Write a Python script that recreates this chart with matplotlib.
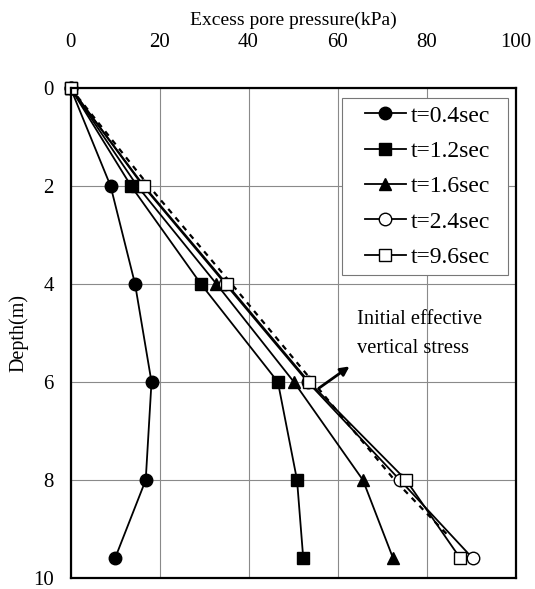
import matplotlib.pyplot as plt
from matplotlib.patches import Rectangle

plt.rcParams['font.family'] = ['Liberation Serif', 'DejaVu Serif']

# depth (m) and excess pore pressure (kPa) for each time
depth = [0, 2, 4, 6, 8, 9.6]
p_04 = [0, 9.0, 14.5, 18.2, 16.9, 10.0]
p_12 = [0, 13.6, 29.3, 46.6, 50.9, 52.3]
p_16 = [0, 15.0, 32.8, 50.2, 65.7, 72.5]
p_24 = [0, 16.3, 34.8, 53.3, 74.0, 90.4]
p_96 = [0, 16.5, 35.1, 53.6, 75.4, 87.6]

# initial effective vertical stress
sv_depth = [0, 2, 4, 6, 8, 9.1]
sv_val = [0, 17.6, 36.2, 54.5, 72.8, 84.5]

fig = plt.figure(figsize=(5.35, 5.89), dpi=100)
ax = fig.add_axes([0.1318, 0.0187, 0.8318, 0.832])

ax.plot(sv_val, sv_depth, color='k', lw=1.6, ls=(0, (2.5, 2.5)))

kw = dict(color='k', lw=1.3, ms=9)
ax.plot(p_04, depth, marker='o', mfc='k', label='t=0.4sec', **kw)
ax.plot(p_12, depth, marker='s', mfc='k', label='t=1.2sec', **kw)
ax.plot(p_16, depth, marker='^', mfc='k', label='t=1.6sec', **kw)
ax.plot(p_24, depth, marker='o', mfc='w', label='t=2.4sec', **kw)
ax.plot(p_96, depth, marker='s', mfc='w', label='t=9.6sec', **kw)

ax.set_xlim(0, 100)
ax.set_ylim(10, 0)
ax.set_xticks([0, 20, 40, 60, 80, 100])
ax.set_yticks([0, 2, 4, 6, 8, 10])
ax.xaxis.tick_top()
ax.xaxis.set_label_position('top')
ax.tick_params(axis='x', length=0, pad=26, labelsize=15)
ax.tick_params(axis='y', length=0, pad=12, labelsize=15)
ax.set_xlabel('Excess pore pressure(kPa)', fontsize=14, labelpad=6)
ax.set_ylabel('Depth(m)', fontsize=14.5, labelpad=3)
ax.grid(True, color='#8a8a8a', lw=0.8)
for s in ax.spines.values():
    s.set_linewidth(1.6)
for l in ax.lines:
    l.set_clip_on(False)

# legend box drawn separately (wider side padding than top/bottom)
ax.add_patch(Rectangle((0.611, 0.618), 0.371, 0.362, transform=ax.transAxes,
                       fill=True, facecolor='w', edgecolor='#777777', lw=0.8, zorder=4))
leg = ax.legend(loc='upper left', bbox_to_anchor=(0.661, 0.965), borderaxespad=0,
                fontsize=17, frameon=False, handlelength=1.75, handletextpad=0.2,
                labelspacing=0.585, borderpad=0)
leg.set_zorder(5)

ax.annotate('', xy=(63.2, 5.65), xytext=(55.3, 6.16),
            arrowprops=dict(arrowstyle='-|>', color='k', lw=2, mutation_scale=13))
ax.text(64.3, 5.02, 'Initial effective\nvertical stress', fontsize=14.8,
        va='center', ha='left', linespacing=1.7)

fig.savefig('out.png', dpi=100)
